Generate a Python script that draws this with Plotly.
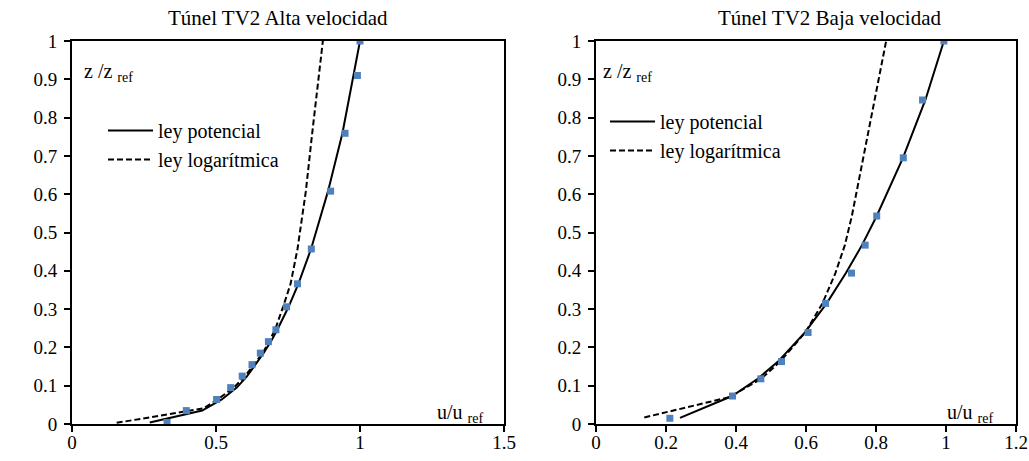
import plotly.graph_objects as go

# ---------------- data ----------------
# Left panel: Túnel TV2 Alta velocidad
left_z_meas = [0.004, 0.035, 0.064, 0.095, 0.125, 0.155, 0.185, 0.215, 0.246, 0.306, 0.366, 0.457, 0.608, 0.759, 0.910, 1.0]
left_u_meas = [0.330, 0.397, 0.502, 0.551, 0.591, 0.625, 0.654, 0.682, 0.708, 0.745, 0.783, 0.831, 0.898, 0.948, 0.991, 1.0]
left_z_pot = [0.004, 0.035, 0.064, 0.095, 0.125, 0.155, 0.185, 0.215, 0.246, 0.306, 0.366, 0.457, 0.608, 0.759, 0.910, 1.0]
left_u_pot = [0.270, 0.452, 0.520, 0.572, 0.608, 0.638, 0.665, 0.690, 0.713, 0.752, 0.786, 0.830, 0.889, 0.939, 0.978, 1.0]
left_z_log = [0.003, 0.041, 0.064, 0.095, 0.125, 0.155, 0.185, 0.215, 0.246, 0.306, 0.366, 0.457, 0.608, 0.759, 0.910, 1.0]
left_u_log = [0.155, 0.457, 0.505, 0.562, 0.601, 0.633, 0.662, 0.684, 0.705, 0.733, 0.759, 0.783, 0.812, 0.834, 0.857, 0.871]

# Right panel: Túnel TV2 Baja velocidad
right_z_meas = [0.015, 0.073, 0.118, 0.163, 0.239, 0.315, 0.394, 0.467, 0.543, 0.695, 0.846, 1.0]
right_u_meas = [0.211, 0.390, 0.471, 0.530, 0.606, 0.656, 0.730, 0.769, 0.802, 0.878, 0.933, 0.994]
right_z_pot = [0.016, 0.073, 0.118, 0.163, 0.239, 0.315, 0.394, 0.467, 0.543, 0.695, 0.846, 1.0]
right_u_pot = [0.240, 0.389, 0.462, 0.520, 0.597, 0.659, 0.714, 0.760, 0.802, 0.877, 0.941, 0.994]
right_z_log = [0.017, 0.070, 0.118, 0.163, 0.239, 0.315, 0.394, 0.467, 0.543, 0.695, 0.846, 1.0]
right_u_log = [0.138, 0.380, 0.472, 0.526, 0.598, 0.647, 0.684, 0.711, 0.731, 0.763, 0.795, 0.829]

titles = ["Túnel TV2 Alta velocidad", "Túnel TV2 Baja velocidad"]
legend_names = ["ley potencial", "ley logarítmica"]

# ---------------- figure ----------------
W, H = 1029, 461
FONT = "Liberation Serif"
MARKER_COLOR = "#4F81BD"

def px_x(p):
    return p / W

def px_y(p):
    return (H - p) / H

fig = go.Figure()

# left panel traces
fig.add_trace(go.Scatter(x=left_u_pot, y=left_z_pot, mode="lines", name=legend_names[0],
                         line=dict(color="black", width=2), xaxis="x", yaxis="y", legend="legend"))
fig.add_trace(go.Scatter(x=left_u_log, y=left_z_log, mode="lines", name=legend_names[1],
                         line=dict(color="black", width=2, dash="6px,3px"), xaxis="x", yaxis="y", legend="legend"))
fig.add_trace(go.Scatter(x=left_u_meas, y=left_z_meas, mode="markers", showlegend=False,
                         marker=dict(symbol="square", size=7, color=MARKER_COLOR), xaxis="x", yaxis="y"))

# right panel traces
fig.add_trace(go.Scatter(x=right_u_pot, y=right_z_pot, mode="lines", name=legend_names[0],
                         line=dict(color="black", width=2), xaxis="x2", yaxis="y2", legend="legend2"))
fig.add_trace(go.Scatter(x=right_u_log, y=right_z_log, mode="lines", name=legend_names[1],
                         line=dict(color="black", width=2, dash="6px,3px"), xaxis="x2", yaxis="y2", legend="legend2"))
fig.add_trace(go.Scatter(x=right_u_meas, y=right_z_meas, mode="markers", showlegend=False,
                         marker=dict(symbol="square", size=7, color=MARKER_COLOR), xaxis="x2", yaxis="y2"))

ydom = [px_y(424), px_y(41)]
tickfont = dict(family=FONT, size=19, color="black")
axis_common = dict(showline=True, linecolor="black", linewidth=2, mirror=True,
                   ticks="outside", ticklen=6, tickwidth=2, tickcolor="black",
                   showgrid=False, zeroline=False, automargin=False,
                   tickfont=tickfont)
# label-only overlay x axes (tick labels sit closer to the axis, as in the reference)
label_axis = dict(showline=False, ticks="", showgrid=False, zeroline=False,
                  automargin=False, anchor="free", position=px_y(429), tickfont=tickfont)

dom1 = [px_x(72), px_x(504)]
dom2 = [px_x(596), px_x(1016)]

fig.update_layout(
    width=W, height=H,
    margin=dict(l=0, r=0, t=0, b=0, pad=0),
    paper_bgcolor="white", plot_bgcolor="white",
    font=dict(family=FONT, color="black"),
    xaxis=dict(domain=dom1, range=[0, 1.5], dtick=0.5, anchor="y",
               showticklabels=False, **axis_common),
    yaxis=dict(domain=ydom, range=[0, 1], dtick=0.1, anchor="x",
               ticklabelstandoff=3, **axis_common),
    xaxis2=dict(domain=dom2, range=[0, 1.2], dtick=0.2, anchor="y2",
                showticklabels=False, **axis_common),
    yaxis2=dict(domain=ydom, range=[0, 1], dtick=0.1, anchor="x2",
                ticklabelstandoff=3, **axis_common),
    xaxis3=dict(domain=dom1, range=[0, 1.5], dtick=0.5, matches="x", overlaying="x", **label_axis),
    xaxis4=dict(domain=dom2, range=[0, 1.2], dtick=0.2, matches="x2", overlaying="x2", **label_axis),
    legend=dict(x=px_x(103), y=px_y(111), xanchor="left", yanchor="top",
                bgcolor="rgba(0,0,0,0)", font=dict(family=FONT, size=20, color="black"),
                itemwidth=45, tracegroupgap=0),
    legend2=dict(x=px_x(605), y=px_y(102), xanchor="left", yanchor="top",
                 bgcolor="rgba(0,0,0,0)", font=dict(family=FONT, size=20, color="black"),
                 itemwidth=45, tracegroupgap=0),
    showlegend=True,
)

# invisible traces so the label axes are drawn (same data, no visible marks)
fig.add_trace(go.Scatter(x=left_u_meas, y=left_z_meas, mode="markers", showlegend=False,
                         marker=dict(opacity=0), hoverinfo="skip", xaxis="x3", yaxis="y"))
fig.add_trace(go.Scatter(x=right_u_meas, y=right_z_meas, mode="markers", showlegend=False,
                         marker=dict(opacity=0), hoverinfo="skip", xaxis="x4", yaxis="y2"))

def ann(text, x, y, size, xanchor="center"):
    return dict(text=text, x=px_x(x), y=px_y(y), xref="paper", yref="paper",
                xanchor=xanchor, yanchor="middle", showarrow=False,
                font=dict(family=FONT, size=size, color="black"))

annotations = [
    ann(titles[0], 278, 18, 21),
    ann(titles[1], 829, 18, 21),
    ann("z /z <sub>ref</sub>", 82, 72, 20, "left"),
    ann("z /z <sub>ref</sub>", 601, 72, 20, "left"),
    ann("u/u <sub>ref</sub>", 435, 413, 20, "left"),
    ann("u/u <sub>ref</sub>", 945, 413, 20, "left"),
]
fig.update_layout(annotations=annotations)

fig.write_html("out.html")
